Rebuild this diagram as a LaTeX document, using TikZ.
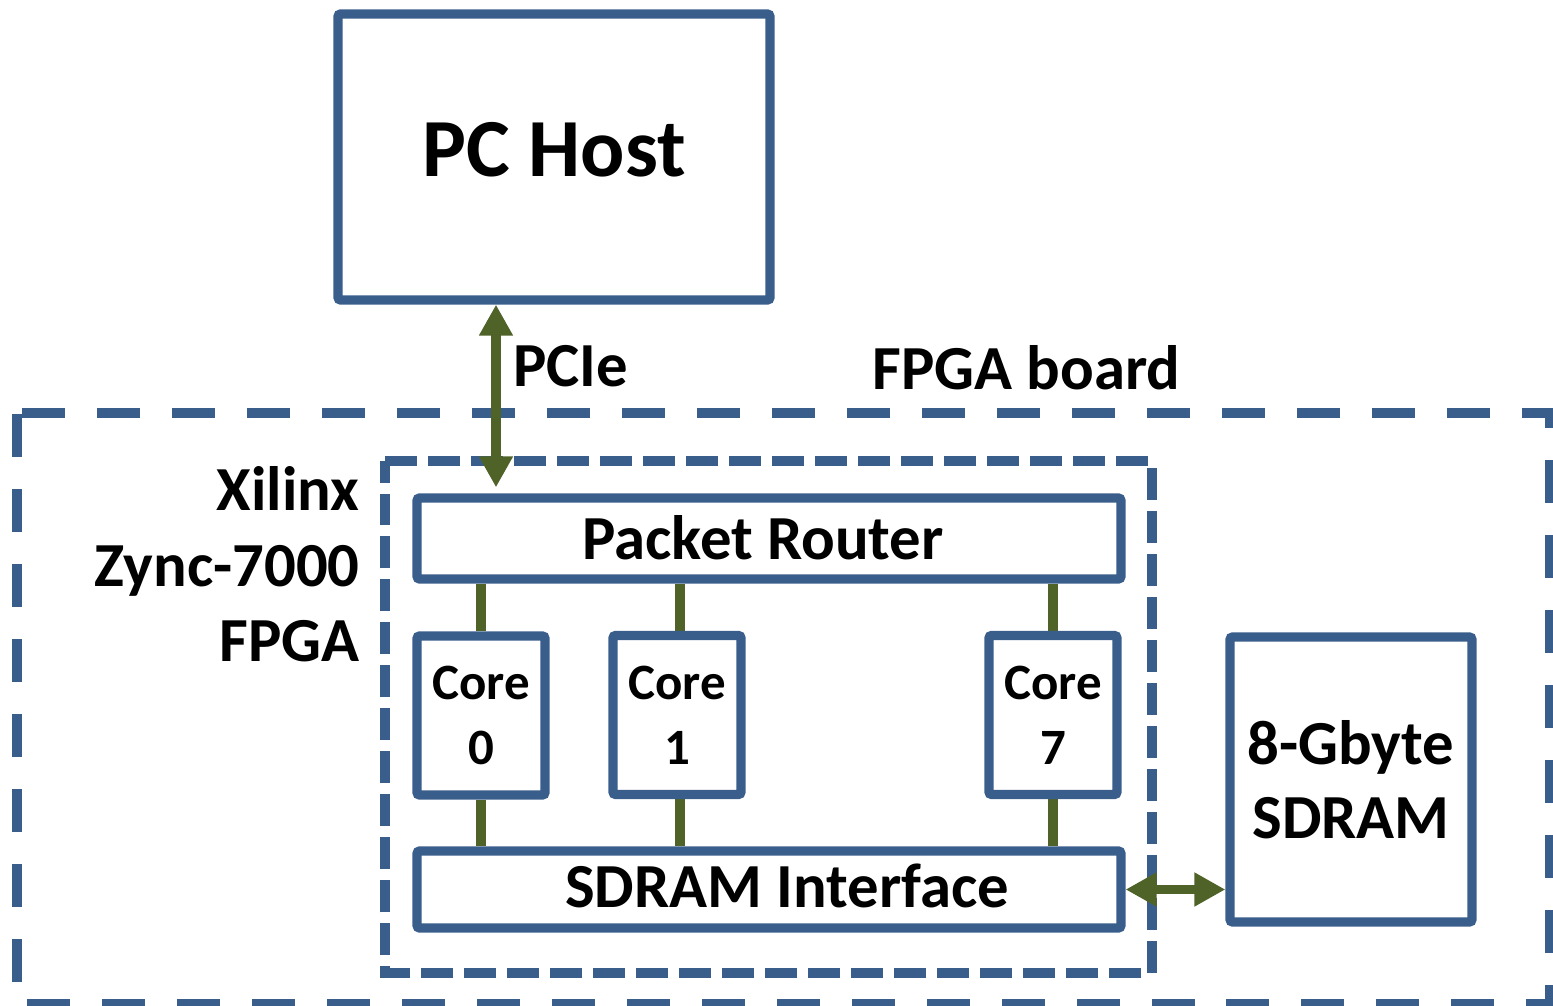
\documentclass[tikz,border=0pt]{standalone}
\usepackage{fontspec}
\setmainfont{Carlito}
\usetikzlibrary{arrows.meta,backgrounds}
\definecolor{boxblue}{HTML}{3A5E8C}
\definecolor{linkgreen}{HTML}{4F6228}
\begin{document}
\begin{tikzpicture}[x=0.02cm,y=-0.02cm,
  box/.style={draw=boxblue, line width=5.3pt, rounded corners=1.5pt, inner sep=0pt, fill=white},
  lbl/.style={font=\bfseries\fontsize{35.7}{43}\selectfont, inner sep=0pt},
  corelbl/.style={font=\bfseries\fontsize{29}{37}\selectfont, align=center},
  memlbl/.style={font=\bfseries\fontsize{35.7}{42}\selectfont, align=center},
  link/.style={draw=linkgreen, line width=5.67pt},
  biarrow/.style={link, {Triangle[length=0.62cm,width=0.64cm]}-{Triangle[length=0.62cm,width=0.64cm]}},
  outerdash/.style={draw=boxblue, line width=5.67pt, dash pattern=on 0.86cm off 0.64cm, dash phase=-0.1cm},
  innerdash/.style={draw=boxblue, line width=5.5pt, dash pattern=on 0.64cm off 0.22cm},
]
\useasboundingbox (0,0) rectangle (1553,1006);

% dashed regions
\coordinate (boardNW) at (17,413);
\coordinate (boardSE) at (1550,1004);
\coordinate (zynqNW) at (385,461);
\coordinate (zynqSE) at (1152,973);
\draw[outerdash] (boardNW) -- (boardNW -| boardSE) -- (boardSE) -- (boardSE -| boardNW) -- cycle;
\draw[innerdash] (zynqNW) -- (zynqNW -| zynqSE) -- (zynqSE) -- (zynqSE -| zynqNW) -- cycle;

% boxes
\node[box, minimum width=8.64cm, minimum height=5.72cm] (pc) at (554,157) {};
\node[box, minimum width=14.08cm, minimum height=1.62cm] (pr) at (769,538.5) {};
\node[box, minimum width=2.56cm, minimum height=3.18cm, corelbl] (c0) at (481,715.5) {Core\\0};
\node[box, minimum width=2.56cm, minimum height=3.18cm, corelbl] (c1) at (677,715) {Core\\1};
\node[box, minimum width=2.56cm, minimum height=3.18cm, corelbl] (c7) at (1053,715) {Core\\7};
\node[box, minimum width=14.08cm, minimum height=1.54cm] (sdi) at (769,889.5) {};
\node[box, minimum width=4.84cm, minimum height=5.7cm, memlbl] (mem) at (1351,779.5) {8-Gbyte\\SDRAM};

% texts
\node[lbl, font=\bfseries\fontsize{47}{56}\selectfont, anchor=base] (pctext) at (554,177) {PC Host};
\node[lbl, anchor=base] (prtext) at (763,560) {Packet Router};
\node[lbl, anchor=base] (sditext) at (787,908) {SDRAM Interface};
\node[lbl, anchor=base west] (pcielbl) at (513,387) {PCIe};
\node[lbl, anchor=base west] (boardlbl) at (872,390) {FPGA board};
\node[lbl, anchor=base east, align=right] (fpgalbl) at (360,662) {Xilinx\\Zync-7000\\FPGA};

% links behind boxes
\begin{pgfonlayer}{background}
\draw[link] (c0.north) -- (c0.north |- pr.south);
\draw[link] (c0.south) -- (c0.south |- sdi.north);
\draw[link] ([xshift=0.06cm]c1.north) -- ([xshift=0.06cm]c1.north |- pr.south);
\draw[link] ([xshift=0.06cm]c1.south) -- ([xshift=0.06cm]c1.south |- sdi.north);
\draw[link] (c7.north) -- (c7.north |- pr.south);
\draw[link] (c7.south) -- (c7.south |- sdi.north);
\end{pgfonlayer}

% arrows
\coordinate (pcieX) at (496,0);
\draw[biarrow, shorten >=0.12cm] (pc.south -| pcieX) -- (pr.north -| pcieX);
\draw[biarrow] (sdi.east) -- (mem.west |- sdi.east);
\end{tikzpicture}
\end{document}
